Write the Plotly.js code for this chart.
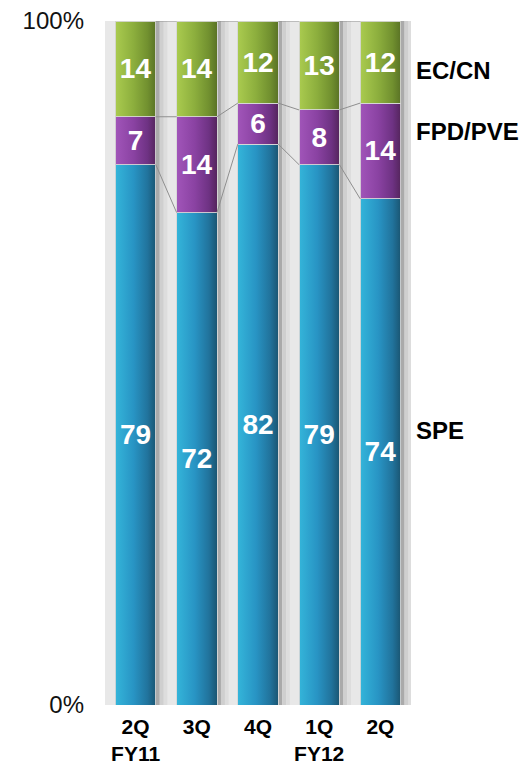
<!DOCTYPE html>
<html>
<head>
<meta charset="utf-8">
<script src="https://cdn.plot.ly/plotly-3.0.1.min.js"></script>
<style>html,body{margin:0;padding:0;background:#fff;}#chart{width:524px;height:766px;}</style>
</head>
<body>
<div id="chart"></div>
<script>
// ---- data ----
var categories = ["2Q<br>FY11", "3Q", "4Q", "1Q<br>FY12", "2Q"];
var speValues = [79, 72, 82, 79, 74];
var fpdValues = [7, 14, 6, 8, 14];
var ecValues  = [14, 14, 12, 13, 12];
var seriesNames = ["SPE", "FPD/PVE", "EC/CN"];
var yTickVals = [0, 100];
var yTickText = ["0%", "100%"];

var FONT = '"Liberation Sans", Arial, sans-serif';
var xIdx = categories.map(function (c, i) { return i; });
var barW = 0.66;
var half = barW / 2;

function barTrace(name, vals, color) {
  return {
    type: 'bar', name: name, x: xIdx, y: vals, width: barW,
    marker: { color: color, line: { color: 'rgba(215,215,215,0.9)', width: 1 } },
    text: vals.map(String), texttemplate: '<b>%{text}</b>',
    textposition: 'inside', insidetextanchor: 'middle', constraintext: 'none',
    textfont: { family: FONT, size: 28, color: '#ffffff' },
    hoverinfo: 'skip', showlegend: false
  };
}

// connector lines between stacked boundaries
var cum1 = speValues.slice();
var cum2 = speValues.map(function (v, i) { return v + fpdValues[i]; });
var cum3 = speValues.map(function (v, i) { return v + fpdValues[i] + ecValues[i]; });
var cx = [], cy = [];
[cum1, cum2, cum3].forEach(function (lvl) {
  for (var i = 0; i < lvl.length - 1; i++) {
    cx.push(i + half, i + 1 - half, null);
    cy.push(lvl[i], lvl[i + 1], null);
  }
});

var traces = [
  barTrace(seriesNames[0], speValues, '#2690c0'),
  barTrace(seriesNames[1], fpdValues, '#7d3a93'),
  barTrace(seriesNames[2], ecValues, '#86a83a'),
  { type: 'scatter', mode: 'lines', x: cx, y: cy, line: { color: '#8f8f8f', width: 1 },
    hoverinfo: 'skip', showlegend: false, connectgaps: false }
];

// shadow shapes to the right of each bar
var shapes = [];
xIdx.forEach(function (i) {
  shapes.push({ type: 'rect', layer: 'below', xref: 'x', yref: 'y', x0: i + half, x1: i + half + 0.065, y0: 0, y1: 100, fillcolor: '#aaaaaa', line: { width: 0 } });
  shapes.push({ type: 'rect', layer: 'below', xref: 'x', yref: 'y', x0: i + half + 0.065, x1: i + half + 0.13, y0: 0, y1: 100, fillcolor: '#cfcfcf', line: { width: 0 } });
  shapes.push({ type: 'rect', layer: 'below', xref: 'x', yref: 'y', x0: i + half + 0.13, x1: i + half + 0.19, y0: 0, y1: 100, fillcolor: '#dddddd', line: { width: 0 } });
});

var labelY = [40.2, 83.8, 92.8];
var annotations = seriesNames.map(function (n, k) {
  return { text: '<b>' + n + '</b>', xref: 'paper', yref: 'y', x: 1, y: labelY[k],
    xanchor: 'left', yanchor: 'middle', xshift: 3, showarrow: false,
    font: { family: FONT, size: 24, color: '#000000' } };
});

var layout = {
  width: 524, height: 766,
  margin: { l: 105, r: 113, t: 21, b: 61 },
  paper_bgcolor: '#ffffff', plot_bgcolor: '#e8e8e8',
  barmode: 'stack', showlegend: false, hovermode: false,
  font: { family: FONT },
  xaxis: { range: [-0.5, 4.5], tickvals: xIdx, ticktext: categories.map(function (c) { return '<b>' + c.replace('<br>', '</b><br><b>') + '</b>'; }),
    showgrid: false, zeroline: false, showline: false, ticks: '', ticklabelstandoff: 7,
    tickfont: { family: FONT, size: 21, color: '#000000' }, fixedrange: true },
  yaxis: { range: [0, 100], tickvals: yTickVals, ticktext: yTickText,
    showgrid: false, zeroline: false, showline: false, ticks: '', ticklabelstandoff: 20,
    tickfont: { family: FONT, size: 24, color: '#111111' }, fixedrange: true },
  shapes: shapes, annotations: annotations
};

var gradients = [
  ['gSPE', ['#34b5da', '#2894c4', '#21739c', '#1a5673']],
  ['gFPD', ['#a155b9', '#8a42a2', '#6e3283', '#55255d']],
  ['gEC',  ['#aacb4f', '#8cae3d', '#71902f', '#5a7325']]
];

Plotly.newPlot('chart', traces, layout, { displayModeBar: false, staticPlot: true }).then(function (gd) {
  var svg = gd.querySelector('svg.main-svg');
  var NS = 'http://www.w3.org/2000/svg';
  var defs = svg.querySelector('defs') || svg.insertBefore(document.createElementNS(NS, 'defs'), svg.firstChild);
  var offs = [0, 0.45, 0.8, 1];
  gradients.forEach(function (g) {
    var lg = document.createElementNS(NS, 'linearGradient');
    lg.setAttribute('id', g[0]);
    lg.setAttribute('x1', '0'); lg.setAttribute('y1', '0');
    lg.setAttribute('x2', '1'); lg.setAttribute('y2', '0');
    g[1].forEach(function (c, k) {
      var s = document.createElementNS(NS, 'stop');
      s.setAttribute('offset', offs[k]);
      s.setAttribute('stop-color', c);
      lg.appendChild(s);
    });
    defs.appendChild(lg);
  });
  var tr = gd.querySelectorAll('.barlayer .trace');
  tr.forEach(function (t, k) {
    if (!gradients[k]) return;
    t.querySelectorAll('.point path').forEach(function (p) {
      p.style.fill = 'url(#' + gradients[k][0] + ')';
    });
  });
});
</script>
</body>
</html>
